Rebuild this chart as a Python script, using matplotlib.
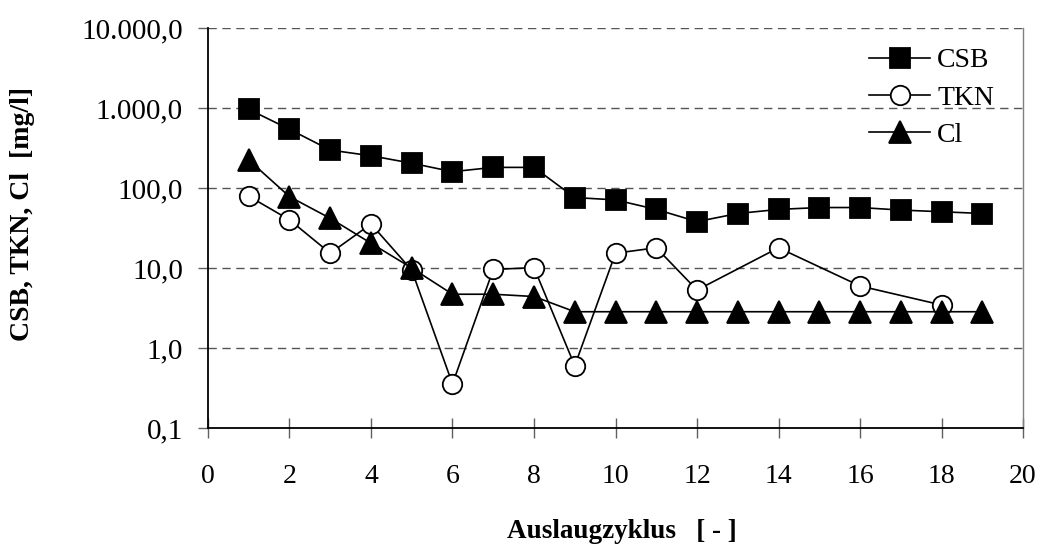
import numpy as np
import matplotlib
matplotlib.use("Agg")
import matplotlib.pyplot as plt
from matplotlib.ticker import FixedLocator, FuncFormatter, NullLocator

# Leaching cycles and measured concentrations [mg/l]
cycles = list(range(1, 20))
csb = [963, 542, 298, 253, 204, 160, 181, 181, 76, 71,
       54, 38, 48, 54, 57, 57, 53, 50.5, 48]
tkn_cycles = [1, 2, 3, 4, 5, 6, 7, 8, 9, 10, 11, 12, 14, 16, 18]
tkn = [79, 40, 15.3, 35.5, 9.4, 0.355, 9.6, 10.1, 0.60, 15.3,
       17.9, 5.3, 17.9, 5.96, 3.45]
cl = [224, 78, 41.8, 20.4, 10.0, 4.7, 4.7, 4.4, 2.84, 2.84,
      2.84, 2.84, 2.84, 2.84, 2.84, 2.84, 2.84, 2.84, 2.84]

y_ticks = [0.1, 1, 10, 100, 1000, 10000]
x_ticks = list(range(0, 21, 2))

plt.rcParams['font.family'] = ['Liberation Serif', 'DejaVu Serif']

fig = plt.figure(figsize=(10.42, 5.45), dpi=100)
ax = fig.add_axes([0.1996, 0.2147, 0.9818 - 0.1996, 0.9486 - 0.2147])

line_kw = dict(color='black', linewidth=1.2, markeredgecolor='black',
               markeredgewidth=1.3)
ax.plot(cycles, csb, marker='s', markersize=15, markerfacecolor='black',
        label='CSB', **line_kw)
ax.plot(tkn_cycles, tkn, marker='o', markersize=14, markerfacecolor='white',
        label='TKN', **line_kw)
ax.plot(cycles, cl, marker='^', markersize=16, markerfacecolor='black',
        label='Cl', **line_kw)

ax.set_yscale('log')
ax.set_ylim(0.1, 10000)
ax.set_xlim(0, 20)
ax.yaxis.set_major_locator(FixedLocator(y_ticks))
ax.yaxis.set_minor_locator(NullLocator())
ax.xaxis.set_major_locator(FixedLocator(x_ticks))


def de_fmt(v, pos):
    s = f"{v:,.1f}"
    return s.replace(',', 'X').replace('.', ',').replace('X', '.')


ax.yaxis.set_major_formatter(FuncFormatter(de_fmt))

for yv in y_ticks[1:]:
    ax.axhline(yv, color='#555555', linewidth=1.0, dashes=(6, 4), zorder=0)

ax.spines['top'].set_visible(False)
ax.spines['right'].set_color('#808080')
ax.spines['right'].set_linewidth(1.0)
ax.spines['left'].set_linewidth(1.3)
ax.spines['bottom'].set_linewidth(1.3)

ax.tick_params(axis='y', direction='out', length=7, width=1.0, color='#606060',
               labelsize=21, pad=11)
ax.tick_params(axis='x', direction='inout', length=14, width=1.0, color='#606060',
               labelsize=20, pad=19)

ax.set_xlabel('Auslaugzyklus   [ - ]', fontsize=19.5, fontweight='bold')
ax.set_ylabel('CSB, TKN, Cl  [mg/l]', fontsize=20, fontweight='bold')
ax.xaxis.set_label_coords(0.508, -0.228)
ax.yaxis.set_label_coords(-0.212, 0.535)

leg = ax.legend(loc='upper left', bbox_to_anchor=(0.811, 0.95), frameon=False,
                fontsize=20, handlelength=2.2, handletextpad=0.25,
                labelspacing=0.42, borderaxespad=0.0, borderpad=0.0)

fig.savefig('out.png', dpi=100, facecolor='white')
